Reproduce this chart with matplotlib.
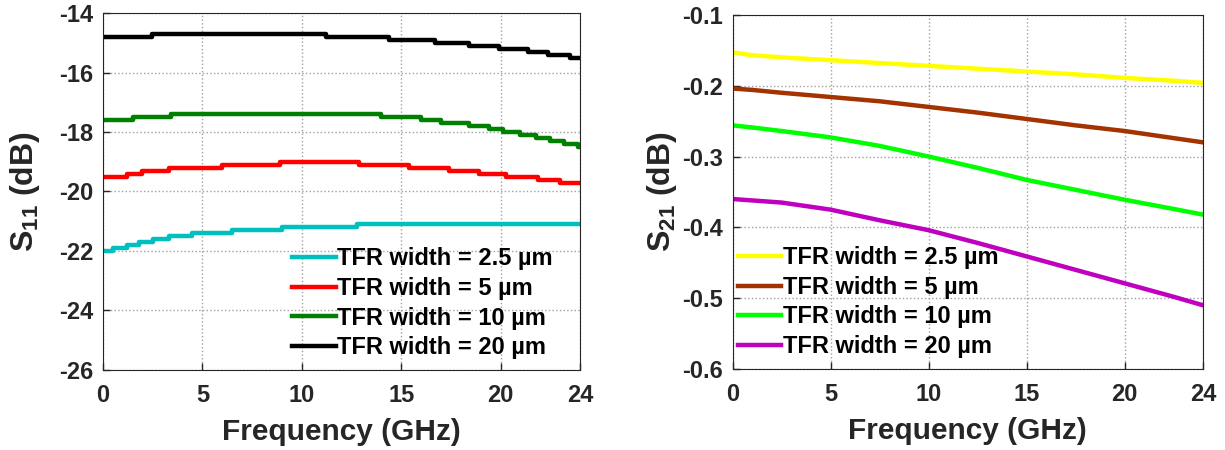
import matplotlib
matplotlib.use("Agg")
import matplotlib.pyplot as plt

plt.rcParams['font.family'] = ['Liberation Sans', 'DejaVu Sans']
plt.rcParams['font.weight'] = 'bold'
plt.rcParams['axes.unicode_minus'] = False
plt.rcParams['mathtext.fontset'] = 'custom'
plt.rcParams['mathtext.rm'] = 'Liberation Sans:bold'
plt.rcParams['mathtext.bf'] = 'Liberation Sans:bold'
plt.rcParams['mathtext.it'] = 'Liberation Sans:bold'

labels = ['TFR width = 2.5 µm', 'TFR width = 5 µm',
          'TFR width = 10 µm', 'TFR width = 20 µm']

# S11 (dB): step breakpoints (GHz, dB), values quantised to 0.1 dB
s11_f = [
    [0, 0.5, 1.2, 1.8, 2.5, 3.3, 4.5, 6.5, 9.0, 12.8, 24],
    [0, 1.2, 1.95, 3.3, 6.0, 8.9, 12.9, 15.4, 17.4, 18.9, 20.3, 21.9, 23.0, 24],
    [0, 1.5, 3.4, 14.0, 16.0, 17.0, 18.4, 19.4, 20.1, 21.0, 21.8, 22.5, 23.2, 23.9, 24],
    [0, 2.45, 11.2, 14.4, 16.7, 18.4, 19.9, 21.4, 22.4, 23.5, 24],
]
s11_db = [
    [-22.0, -21.9, -21.8, -21.7, -21.6, -21.5, -21.4, -21.3, -21.2, -21.1, -21.1],
    [-19.5, -19.4, -19.3, -19.2, -19.1, -19.0, -19.1, -19.2, -19.3, -19.4, -19.5, -19.6, -19.7, -19.7],
    [-17.6, -17.5, -17.4, -17.5, -17.6, -17.7, -17.8, -17.9, -18.0, -18.1, -18.2, -18.3, -18.4, -18.5, -18.5],
    [-14.8, -14.7, -14.8, -14.9, -15.0, -15.1, -15.2, -15.3, -15.4, -15.5, -15.5],
]
s11_colors = ['#00bfbf', '#ff0000', '#007f00', '#000000']

# S21 (dB)
s21_f = [0, 1, 2.5, 5, 7.5, 10, 12.5, 15, 17.5, 20, 22.5, 24]
s21_db = [
    [-0.153, -0.157, -0.160, -0.164, -0.168, -0.172, -0.176, -0.180, -0.184, -0.189, -0.193, -0.196],
    [-0.204, -0.206, -0.210, -0.216, -0.222, -0.230, -0.238, -0.247, -0.256, -0.264, -0.274, -0.280],
    [-0.256, -0.259, -0.264, -0.273, -0.285, -0.300, -0.316, -0.333, -0.347, -0.361, -0.374, -0.382],
    [-0.360, -0.362, -0.365, -0.375, -0.390, -0.404, -0.422, -0.441, -0.460, -0.479, -0.498, -0.510],
]
s21_colors = ['#ffff00', '#a33300', '#00ff00', '#bf00bf']

fig = plt.figure(figsize=(12.25, 4.5), dpi=100)
ax1 = fig.add_axes([0.0841, 0.178, 0.3894, 0.793])
ax2 = fig.add_axes([0.598, 0.18, 0.384, 0.787])

for f, v, c, lab in zip(s11_f, s11_db, s11_colors, labels):
    ax1.plot(f, v, color=c, lw=3.2, drawstyle='steps-post', label=lab)
for v, c, lab in zip(s21_db, s21_colors, labels):
    ax2.plot(s21_f, v, color=c, lw=3.2, label=lab)

ax1.set_xlim(0, 24)
ax1.set_ylim(-26, -14)
ax1.set_xticks([0, 5, 10, 15, 20, 24])
ax1.set_yticks(range(-26, -13, 2))
ax1.set_ylabel(r'$\mathbf{S_{11}}$ (dB)', fontsize=23, fontweight='bold', color='#262626')
ax1.yaxis.set_label_coords(-0.128, 0.5)

ax2.set_xlim(0, 24)
ax2.set_ylim(-0.6, -0.1)
ax2.set_xticks([0, 5, 10, 15, 20, 24])
ax2.set_yticks([-0.6, -0.5, -0.4, -0.3, -0.2, -0.1])
ax2.set_yticklabels(['-0.6', '-0.5', '-0.4', '-0.3', '-0.2', '-0.1'])
ax2.set_ylabel(r'$\mathbf{S_{21}}$ (dB)', fontsize=23, fontweight='bold', color='#262626')
ax2.yaxis.set_label_coords(-0.113, 0.5)

for ax in (ax1, ax2):
    ax.set_xlabel('Frequency (GHz)', fontsize=21.5, fontweight='bold', color='#262626',
                  labelpad=8)
    ax.grid(True, linestyle=':', color='#a0a0a0', lw=1)
    ax.tick_params(labelsize=17, colors='#262626', direction='in', length=5, width=1)
    ax.tick_params(axis='x', pad=10)
    ax.tick_params(axis='y', pad=7)
    for lbl in ax.get_xticklabels() + ax.get_yticklabels():
        lbl.set_fontweight('bold')
    for sp in ax.spines.values():
        sp.set_color('#262626')

leg_opts = dict(loc='lower left', frameon=False, fontsize=17, handlelength=1.85,
                handletextpad=0.08, labelspacing=0.28, borderaxespad=0, borderpad=0)
ax1.legend(bbox_to_anchor=(0.396, 0.03), **leg_opts)
ax2.legend(bbox_to_anchor=(0.011, 0.031), **leg_opts)

fig.savefig('out.png', dpi=100)
